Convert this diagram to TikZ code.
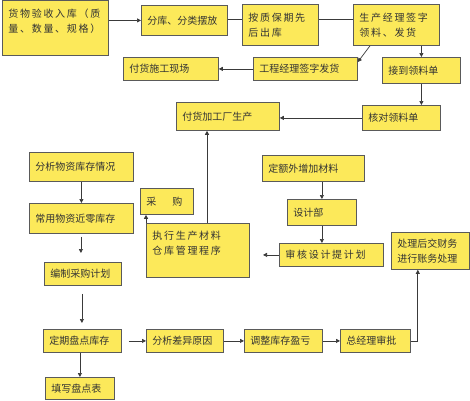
\documentclass[tikz,border=0pt]{standalone}
\usepackage{fontspec}
\setmainfont{Noto Sans CJK SC}
\newfontfamily\widefont[LetterSpace=17]{Noto Sans CJK SC}
\usetikzlibrary{calc,arrows.meta}
\definecolor{boxfill}{HTML}{FCE95A}
\definecolor{boxline}{HTML}{5A5A5A}
\definecolor{txt}{HTML}{333333}
\definecolor{linec}{HTML}{3A3A3A}
\newcommand\bx[7][]{%
  \pgfmathsetmacro\bw{#5-#3-12}%
  \pgfmathsetmacro\bh{#6-#4}%
  \node[box,#1,anchor=north west,text width=\bw pt,minimum height=\bh pt] (#2) at (#3,#4) {#7};}
\begin{document}
\begin{tikzpicture}[x=1pt,y=-1pt,
  box/.style={draw=boxline,fill=boxfill,line width=0.8pt,inner xsep=6pt,inner ysep=0pt,
    align=left,text=txt,font=\fontsize{10}{15}\selectfont},
  widebox/.style={font=\widefont\fontsize{10}{15}\selectfont},
  arr/.style={draw=linec,line width=0.7pt,-{Triangle[length=4pt,width=4pt]}},
  plain/.style={draw=linec,line width=0.7pt}]
\fill[white] (0,0) rectangle (470,400);
\useasboundingbox (0,0) rectangle (470,400);

\bx[widebox]{b1}{2}{0}{108}{55}{货物验收入库（质\\量、数量、规格）\\~}
\bx{b2}{141}{5}{227}{35}{分库、分类摆放}
\bx[widebox]{b3}{242}{4}{318}{45}{按质保期先\\后出库}
\bx[widebox]{b4}{353}{4}{439}{45}{生产经理签字\\领料、发货}
\bx{b5}{123}{57}{218}{80}{付货施工现场}
\bx{b6}{253}{57}{357}{80}{工程经理签字发货}
\bx{b7}{382}{57}{460}{83}{接到领料单}
\bx{b8}{176}{102}{279}{130}{付货加工厂生产}
\bx{b9}{362}{105}{440}{130}{核对领料单}
\bx{b10}{29}{152}{133}{181}{分析物资库存情况}
\bx{b11}{29}{203}{133}{233}{常用物资近零库存}
\bx{b12}{140}{188}{193}{214}{采\hspace{16pt}购}
\bx[widebox]{b13}{146}{223}{249}{277}{执行生产材料\\仓库管理程序\\~}
\bx{b14}{44}{262}{121}{285}{编制采购计划}
\bx{b15}{262}{155}{364}{181}{定额外增加材料}
\bx{b16}{287}{199}{356}{225}{设计部}
\bx[widebox]{b17}{279}{243}{383}{266}{审核设计提计划}
\bx{b18}{391}{232}{469}{269}{处理后交财务\\进行账务处理}
\bx{b19}{43}{329}{121}{352}{定期盘点库存}
\bx{b20}{146}{329}{223}{352}{分析差异原因}
\bx{b21}{244}{329}{322}{352}{调整库存盈亏}
\bx{b22}{340}{329}{410}{352}{总经理审批}
\bx{b23}{45}{377}{114}{399}{填写盘点表}

% top row
\draw[arr] (b1.east |- b2.west) -- (b2.west);
\draw[plain] ([yshift=1pt]b2.east) -- ([yshift=1pt]b2.east -| b3.west);
\draw[plain] (b3.east |- b2.east) ++(0,-1) -- ([yshift=1pt]b2.east -| b4.west);
\draw[arr] ($(b4.south west)+(17,0)$) -- ($(b6.north east)+(0,5)$);
\draw[arr] (b4.south -| b7.north) -- (b7.north);
\draw[arr] (b6.west) -- (b6.west -| b5.east);
\draw[arr] (b7.south) -- (b7.south |- b9.north);
\draw[arr] (b9.west) -- (b9.west -| b8.east);

% middle
\coordinate (t13) at ($(b13.north west)+(61,0)$);
\draw[arr] (t13) -- (t13 |- b8.south);
\draw[arr] (b13.north west) -- (b13.north west |- b12.south);
\draw[arr] (b10.south) -- (b11.north);
\coordinate (s11) at ($(b11.south)+(0,3)$);
\coordinate (e14) at ($(b14.north)+(-2,-9)$);
\draw[arr] (s11 -| e14) -- (e14);
\draw[arr] (b15.south -| b16.north) -- (b16.north);
\draw[arr] (b16.south) -- (b16.south |- b17.north);
\coordinate (c17) at ($(b17.west)+(-16,0)$);
\draw[arr] (b17.west) -- (c17);

% bottom
\coordinate (s14) at ($(b14.south)+(-1,8)$);
\coordinate (e19) at ($(b19.north)+(0,-6)$);
\draw[arr] (s14) -- (s14 |- e19);
\coordinate (s19) at ($(b19.east)+(7,0)$);
\draw[arr] (s19) -- (b20.west);
\draw[arr] (b20.east) -- (b21.west);
\draw[arr] (b21.east) -- (b22.west);
\coordinate (k22) at ($(b22.east)+(7,0)$);
\draw[arr] (b22.east) -- (k22) -- (k22 |- b18.south);
\draw[arr] (b19.south -| b23.north) -- (b23.north);
\end{tikzpicture}
\end{document}
